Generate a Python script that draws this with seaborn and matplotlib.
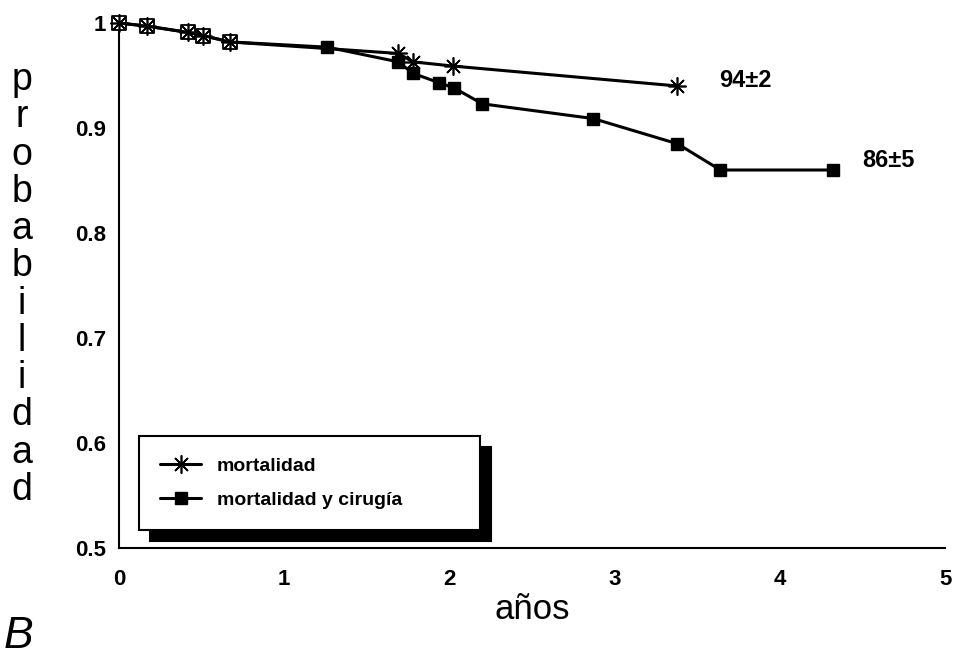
import matplotlib
matplotlib.use("Agg")
import matplotlib.pyplot as plt
import seaborn as sns
import pandas as pd

# Kaplan-Meier style survival estimates
series_names = ["mortalidad", "mortalidad y cirugía"]

anos_mort = [0.0, 0.17, 0.42, 0.51, 0.67, 1.69, 1.78, 2.02, 3.38]
prob_mort = [1.0, 0.997, 0.991, 0.988, 0.982, 0.971, 0.963, 0.959, 0.94]

anos_cir = [0.0, 0.17, 0.42, 0.51, 0.67, 1.26, 1.69, 1.78, 1.94, 2.03, 2.20,
            2.87, 3.38, 3.64, 4.32]
prob_cir = [1.0, 0.997, 0.991, 0.988, 0.982, 0.977, 0.963, 0.952, 0.943,
            0.938, 0.923, 0.909, 0.885, 0.86, 0.86]

end_labels = ["94±2", "86±5"]

x_ticks = [0, 1, 2, 3, 4, 5]
x_ticklabels = ["0", "1", "2", "3", "4", "5"]
y_ticks = [0.5, 0.6, 0.7, 0.8, 0.9, 1.0]
y_ticklabels = ["0.5", "0.6", "0.7", "0.8", "0.9", "1"]

y_title = "probabilidad"
x_title = "años"
panel = "B"

sns.set_theme(style="white")
plt.rcParams["font.family"] = ["Liberation Sans", "DejaVu Sans"]
plt.rcParams["text.color"] = "black"

df_mort = pd.DataFrame({"años": anos_mort, "prob": prob_mort})
df_cir = pd.DataFrame({"años": anos_cir, "prob": prob_cir})

fig = plt.figure(figsize=(9.57, 6.57), dpi=100)
ax = fig.add_axes([0.1243, 0.1659, 0.8632, 0.7991])

# combined endpoint: filled squares
sns.lineplot(data=df_cir, x="años", y="prob", ax=ax, color="black",
             linewidth=2.2, marker="s", markersize=9, markeredgewidth=1,
             markeredgecolor="black", markerfacecolor="black",
             estimator=None, sort=False, label=series_names[1],
             clip_on=False, zorder=3)

# where both curves share a point, the square is drawn open
shared = df_cir.merge(df_mort, on=["años", "prob"], how="inner")
sns.scatterplot(data=shared, x="años", y="prob", ax=ax, marker="s", s=90,
                facecolor="white", edgecolor="black", linewidth=1.3,
                legend=False, clip_on=False, zorder=4)

# mortality only: asterisks
sns.lineplot(data=df_mort, x="años", y="prob", ax=ax, color="black",
             linewidth=2.2, marker=(8, 2, 0), markersize=13,
             markeredgewidth=1.2, markeredgecolor="black",
             markerfacecolor="black", estimator=None, sort=False,
             label=series_names[0], clip_on=False, zorder=5)

# end-of-curve values
ax.annotate(end_labels[0], xy=(anos_mort[-1], prob_mort[-1]),
            xytext=(30, 4), textcoords="offset points", ha="left",
            va="center", fontsize=17, fontweight="bold", color="black")
ax.annotate(end_labels[1], xy=(anos_cir[-1], prob_cir[-1]),
            xytext=(21.5, 6.5), textcoords="offset points", ha="left",
            va="center", fontsize=17, fontweight="bold", color="black")

ax.set_xlim(0, 5)
ax.set_ylim(0.5, 1.0)
ax.set_xticks(x_ticks)
ax.set_xticklabels(x_ticklabels, fontsize=16, fontweight="bold")
ax.set_yticks(y_ticks)
ax.set_yticklabels(y_ticklabels, fontsize=16, fontweight="bold")
ax.tick_params(axis="x", length=0, pad=15, colors="black")
ax.tick_params(axis="y", length=0, pad=9, colors="black")
ax.grid(False)
for side in ("top", "right"):
    ax.spines[side].set_visible(False)
for side in ("left", "bottom"):
    ax.spines[side].set_color("black")
    ax.spines[side].set_linewidth(1.5)

ax.set_xlabel(x_title, fontsize=25, labelpad=2, color="black")
ax.set_ylabel("")

# vertical, letter-by-letter y title
top_px, bottom_px = 80, 490
n = len(y_title)
for i, ch in enumerate(y_title):
    ypx = top_px + i * (bottom_px - top_px) / (n - 1)
    fig.text(22 / 957, 1 - ypx / 657, ch, fontsize=27, ha="center",
             va="center", color="black")

fig.text(0.004, 1 - 636 / 657, panel, fontsize=32, style="italic",
         ha="left", va="center", color="black")

# legend with a solid drop shadow
handles, labels = ax.get_legend_handles_labels()
order = [labels.index(s) for s in series_names]
leg = ax.legend([handles[i] for i in order], [labels[i] for i in order],
                loc="lower left", bbox_to_anchor=(0.024, 0.034, 0.413, 0.19),
                mode="expand", borderaxespad=0, fancybox=False,
                framealpha=1, edgecolor="black", numpoints=1,
                handlelength=2.1, handletextpad=0.8, labelspacing=0.85,
                borderpad=1.1,
                prop={"family": "Liberation Sans", "weight": "bold",
                      "size": 14},
                shadow={"ox": 8, "oy": -8, "facecolor": "black",
                        "edgecolor": "black", "alpha": 1})
leg.get_frame().set_linewidth(1.5)
for txt in leg.get_texts():
    txt.set_color("black")

fig.savefig("out.png", dpi=100, facecolor="white")
